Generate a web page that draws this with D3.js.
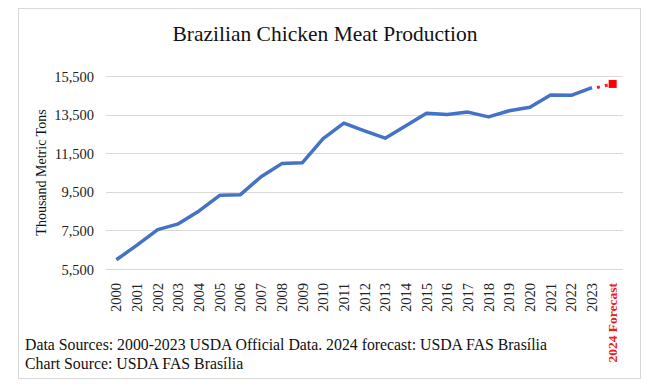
<!DOCTYPE html>
<html>
<head>
<meta charset="utf-8">
<script src="https://cdn.jsdelivr.net/npm/d3@7"></script>
<style>
  body { margin: 0; background: #fff; }
  svg text { font-family: "Times New Roman", "Liberation Serif", serif; }
</style>
</head>
<body>
<script>
'use strict';

var width = 650, height = 390;

// data
var years = ['2000','2001','2002','2003','2004','2005','2006','2007','2008','2009','2010','2011',
  '2012','2013','2014','2015','2016','2017','2018','2019','2020','2021','2022','2023'];
var production = [5977, 6740, 7540, 7840, 8510, 9320, 9350, 10280, 10960, 11010, 12250, 13060,
  12660, 12280, 12920, 13570, 13500, 13630, 13380, 13700, 13880, 14510, 14500, 14900];
var forecastLabel = '2024 Forecast';
var forecastValue = 15090;
var yTicks = [5500, 7500, 9500, 11500, 13500, 15500];

var categories = years.concat([forecastLabel]);

var serif = '"Times New Roman", "Liberation Serif", serif';
var margin = {left: 106, right: 27, top: 76, bottom: 121};

var svg = d3.select('body').append('svg')
  .attr('width', width)
  .attr('height', height)
  .attr('font-family', serif);

// outer frame
svg.append('rect')
  .attr('x', 18.5).attr('y', 8.5)
  .attr('width', 622).attr('height', 370)
  .attr('fill', '#fff')
  .attr('stroke', '#d9d9d9');

var x = d3.scaleBand()
  .domain(categories)
  .range([margin.left, width - margin.right]);

var y = d3.scaleLinear()
  .domain([5500, 15500])
  .range([height - margin.bottom, margin.top]);

// gridlines
svg.append('g')
  .selectAll('line')
  .data(yTicks)
  .enter()
  .append('line')
  .attr('x1', margin.left)
  .attr('x2', width - margin.right)
  .attr('y1', function(d) { return Math.round(y(d)) + 0.5; })
  .attr('y2', function(d) { return Math.round(y(d)) + 0.5; })
  .attr('stroke', '#d9d9d9')
  .attr('stroke-width', 1);

// y axis labels
var yAxis = svg.append('g')
  .attr('transform', 'translate(' + (margin.left - 12) + ',0)')
  .call(d3.axisLeft(y).tickValues(yTicks).tickSize(0).tickFormat(d3.format(',')));
yAxis.attr('font-family', serif).attr('font-size', 14.5);
yAxis.select('.domain').remove();
yAxis.selectAll('text')
  .attr('x', 0)
  .attr('dy', '0.35em')
  .attr('fill', '#222');

// x axis labels, rotated
var xAxis = svg.append('g')
  .attr('transform', 'translate(0,' + (height - margin.bottom + 14) + ')')
  .call(d3.axisBottom(x).tickSize(0));
xAxis.attr('font-family', serif).attr('font-size', 14.5);
xAxis.select('.domain').remove();
xAxis.selectAll('text')
  .attr('transform', 'rotate(-90)')
  .attr('x', 0)
  .attr('y', 0)
  .attr('dy', '0.35em')
  .style('text-anchor', 'end')
  .attr('fill', function(d) { return d === forecastLabel ? '#ee1c1c' : '#222'; })
  .style('font-size', function(d) { return d === forecastLabel ? '13.5px' : null; })
  .style('font-weight', function(d) { return d === forecastLabel ? 'bold' : 'normal'; });

var cx = function(d) { return x(d) + x.bandwidth() / 2; };

// main series
var line = d3.line()
  .x(function(d, i) { return cx(years[i]); })
  .y(function(d) { return y(d); });

svg.append('path')
  .datum(production)
  .attr('d', line)
  .attr('fill', 'none')
  .attr('stroke', '#4472c4')
  .attr('stroke-width', 3.5)
  .attr('stroke-linejoin', 'round');

// forecast: dotted red link and square marker
var last = years.length - 1;
svg.append('line')
  .attr('x1', cx(years[last]) + 5)
  .attr('y1', y(production[last]))
  .attr('x2', cx(forecastLabel))
  .attr('y2', y(forecastValue))
  .attr('stroke', '#e8262a')
  .attr('stroke-width', 3)
  .attr('stroke-dasharray', '3,5')
  .attr('stroke-linecap', 'butt');

svg.append('rect')
  .attr('x', cx(forecastLabel) - 4)
  .attr('y', y(forecastValue) - 4)
  .attr('width', 8)
  .attr('height', 8)
  .attr('fill', '#ff0000');

// title
svg.append('text')
  .attr('x', 325)
  .attr('y', 41)
  .attr('text-anchor', 'middle')
  .style('font-size', '21.5px')
  .attr('fill', '#111')
  .text('Brazilian Chicken Meat Production');

// y axis title
svg.append('text')
  .attr('transform', 'translate(46,' + (height - margin.bottom + margin.top) / 2 + ') rotate(-90)')
  .attr('text-anchor', 'middle')
  .style('font-size', '14px')
  .attr('fill', '#111')
  .text('Thousand Metric Tons');

// sources
['Data Sources: 2000-2023 USDA Official Data. 2024 forecast: USDA FAS Brasília',
 'Chart Source: USDA FAS Brasília'].forEach(function(t, i) {
  svg.append('text')
    .attr('x', 25)
    .attr('y', 350 + i * 18.5)
    .style('font-size', '15.8px')
    .attr('fill', '#111')
    .text(t);
});
</script>
</body>
</html>
